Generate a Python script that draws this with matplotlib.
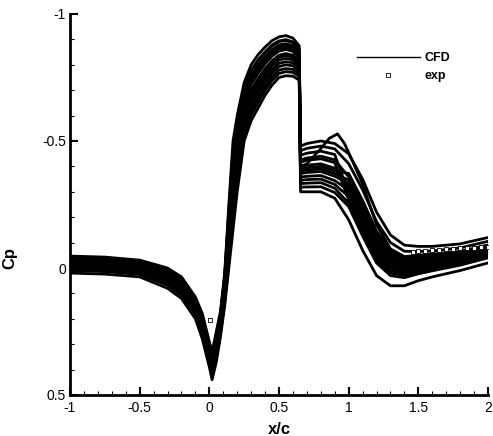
import matplotlib
matplotlib.use("Agg")
import matplotlib.pyplot as plt
from matplotlib.ticker import MultipleLocator, FuncFormatter

# x/c stations shared by the CFD curves
x_cfd = [-1.0, -0.75, -0.5, -0.3, -0.2, -0.1, -0.05, 0.0, 0.02, 0.05, 0.08, 0.11,
         0.14, 0.17, 0.2, 0.25, 0.3, 0.35, 0.4, 0.45, 0.5, 0.55, 0.6, 0.645, 0.655,
         0.7, 0.8, 0.9, 1.0, 1.1, 1.2, 1.3, 1.4, 1.5, 1.6, 1.8, 2.0]

cfd_a = [-0.047, -0.043, -0.031, 0.000, 0.035, 0.114, 0.18, 0.29, 0.33,
         0.25, 0.17, 0.02, -0.25, -0.50, -0.60, -0.73, -0.80, -0.84, -0.87, -0.895, -0.91, -0.915, -0.905, -0.875,
         -0.462, -0.471, -0.48, -0.469,
         -0.411, -0.308, -0.183, -0.10, -0.066, -0.065, -0.067, -0.079, -0.105]
cfd_b = [-0.037, -0.033, -0.021, 0.012, 0.048, 0.127, 0.195, 0.305, 0.346,
         0.262, 0.18, 0.033, -0.225, -0.465, -0.57, -0.707, -0.778, -0.819, -0.851, -0.878, -0.894, -0.899, -0.89, -0.862,
         -0.48, -0.49, -0.50, -0.49,
         -0.45, -0.35, -0.22, -0.13, -0.09, -0.085, -0.085, -0.095, -0.12]
cfd_c = [-0.027, -0.023, -0.011, 0.024, 0.061, 0.140, 0.21, 0.32, 0.363,
         0.28, 0.195, 0.053, -0.188, -0.413, -0.525, -0.673, -0.745, -0.788, -0.823, -0.851, -0.87, -0.876, -0.868, -0.841,
         -0.426, -0.433, -0.44, -0.426,
         -0.359, -0.252, -0.133, -0.06, -0.034, -0.038, -0.043, -0.058, -0.085]
cfd_d = [-0.017, -0.013, -0.001, 0.036, 0.073, 0.153, 0.225, 0.335, 0.38,
         0.292, 0.205, 0.066, -0.163, -0.378, -0.495, -0.65, -0.723, -0.767, -0.804, -0.834, -0.854, -0.86, -0.853, -0.828,
         -0.399, -0.405, -0.41, -0.393,
         -0.32, -0.21, -0.095, -0.03, -0.01, -0.018, -0.025, -0.043, -0.07]
cfd_e = [-0.010, -0.006, 0.005, 0.044, 0.082, 0.161, 0.235, 0.345, 0.39,
         0.31, 0.22, 0.085, -0.125, -0.325, -0.45, -0.615, -0.69, -0.735, -0.775, -0.808, -0.83, -0.836, -0.83, -0.808,
         -0.372, -0.376, -0.38, -0.361,
         -0.333, -0.224, -0.108, -0.04, -0.018, -0.024, -0.031, -0.048, -0.075]
cfd_f = [0.000, 0.004, 0.015, 0.056, 0.095, 0.174, 0.25, 0.36, 0.407,
         0.328, 0.235, 0.105, -0.088, -0.273, -0.405, -0.58, -0.657, -0.704, -0.747, -0.781, -0.806, -0.812, -0.808, -0.787,
         -0.345, -0.348, -0.35, -0.329,
         -0.281, -0.168, -0.058, 0.0, 0.014, 0.003, -0.007, -0.027, -0.055]
cfd_g = [0.010, 0.014, 0.025, 0.068, 0.107, 0.187, 0.265, 0.375, 0.423,
         0.348, 0.252, 0.127, -0.045, -0.213, -0.354, -0.541, -0.62, -0.668, -0.714, -0.752, -0.779, -0.785, -0.782, -0.764,
         -0.318, -0.319, -0.32, -0.297,
         -0.242, -0.126, -0.02, 0.03, 0.038, 0.023, 0.011, -0.011, -0.04]
cfd_h = [0.020, 0.024, 0.035, 0.080, 0.120, 0.200, 0.28, 0.39, 0.44,
         0.37, 0.27, 0.15, 0.00, -0.15, -0.30, -0.50, -0.58, -0.63, -0.68, -0.72, -0.75, -0.757, -0.755, -0.74,
         -0.30, -0.30, -0.30, -0.275,
         -0.19, -0.07, 0.03, 0.07, 0.07, 0.05, 0.035, 0.01, -0.02]
cfd_i = [-0.034, -0.030, -0.018, 0.016, 0.052, 0.131, 0.20, 0.31, 0.352,
         0.304, 0.215, 0.079, -0.138, -0.343, -0.465, -0.627, -0.701, -0.746, -0.785, -0.816, -0.838, -0.844, -0.838, -0.814,
         -0.444, -0.452, -0.46, -0.447,
         -0.294, -0.182, -0.07, -0.01, 0.006, -0.004, -0.013, -0.032, -0.06]
cfd_j = [-0.007, -0.003, 0.009, 0.048, 0.086, 0.166, 0.24, 0.35, 0.396,
         0.264, 0.182, 0.036, -0.22, -0.458, -0.564, -0.702, -0.774, -0.815, -0.847, -0.874, -0.891, -0.896, -0.887, -0.859,
         -0.39, -0.395, -0.40, -0.383,
         -0.372, -0.266, -0.145, -0.07, -0.042, -0.045, -0.049, -0.064, -0.09]
cfd_n = [0.007, 0.011, 0.022, 0.064, 0.103, 0.183, 0.26, 0.37, 0.418,
         0.318, 0.227, 0.094, -0.108, -0.30, -0.429, -0.599, -0.675, -0.72, -0.762, -0.795, -0.819, -0.825, -0.82, -0.798,
         -0.417, -0.424, -0.43, -0.415,
         -0.268, -0.154, -0.045, 0.01, 0.022, 0.01, -0.001, -0.022, -0.05]
cfd_o = [-0.040, -0.036, -0.024, 0.008, 0.044, 0.123, 0.19, 0.30, 0.341,
         0.338, 0.243, 0.115, -0.068, -0.245, -0.381, -0.562, -0.639, -0.687, -0.731, -0.767, -0.793, -0.80, -0.796, -0.776,
         -0.381, -0.386, -0.39, -0.372,
         -0.346, -0.238, -0.12, -0.05, -0.026, -0.031, -0.037, -0.053, -0.08]
cfd_p = [-0.014, -0.010, 0.002, 0.040, 0.078, 0.157, 0.23, 0.34, 0.385,
         0.358, 0.26, 0.137, -0.025, -0.185, -0.33, -0.523, -0.602, -0.651, -0.699, -0.738, -0.766, -0.773, -0.77, -0.754,
         -0.358, -0.361, -0.364, -0.344,
         -0.307, -0.196, -0.083, -0.02, -0.002, -0.011, -0.019, -0.037, -0.065]
cfd_q = [-0.024, -0.020, -0.008, 0.028, 0.065, 0.144, 0.215, 0.325, 0.368,
         0.274, 0.19, 0.046, -0.20, -0.43, -0.54, -0.684, -0.756, -0.798, -0.832, -0.86, -0.878, -0.883, -0.875, -0.848,
         -0.332, -0.334, -0.336, -0.314,
         -0.255, -0.14, -0.033, 0.02, 0.03, 0.016, 0.005, -0.016, -0.045]

# one case with a bump behind the shock
x_bump = [-1.0, -0.75, -0.5, -0.3, -0.2, -0.1, -0.05, 0.0, 0.02, 0.05, 0.08, 0.11,
          0.14, 0.17, 0.2, 0.25, 0.3, 0.35, 0.4, 0.45, 0.5, 0.55, 0.6, 0.645, 0.655,
          0.7, 0.8, 0.86, 0.92, 0.97, 1.02, 1.1, 1.2, 1.3, 1.4, 1.5, 1.6, 1.8, 2.0]
cfd_bump = [-0.020, -0.016, -0.005, 0.032, 0.069, 0.148, 0.22, 0.33, 0.374,
            0.286, 0.20, 0.059, -0.175, -0.395, -0.51, -0.661, -0.734, -0.777, -0.813, -0.843, -0.862, -0.868, -0.86, -0.835,
            -0.40, -0.41, -0.47, -0.51, -0.528, -0.49, -0.43, -0.33, -0.17, -0.075, -0.045, -0.05, -0.055, -0.065, -0.09]

cfd_curves = [(x_cfd, cfd_a), (x_cfd, cfd_b), (x_cfd, cfd_c), (x_cfd, cfd_d), (x_cfd, cfd_e),
              (x_cfd, cfd_f), (x_cfd, cfd_g), (x_cfd, cfd_h), (x_cfd, cfd_i), (x_cfd, cfd_j),
              (x_cfd, cfd_n), (x_cfd, cfd_o), (x_cfd, cfd_p), (x_cfd, cfd_q),
              (x_bump, cfd_bump)]

# experimental points
x_exp = [0.005, 1.46, 1.5, 1.55, 1.6, 1.65, 1.7, 1.75, 1.8, 1.85, 1.9, 1.95, 2.0]
cp_exp = [0.205, -0.062, -0.066, -0.068, -0.07, -0.072, -0.074, -0.075, -0.077, -0.078, -0.08, -0.082, -0.084]

x_ticks = [-1, -0.5, 0, 0.5, 1, 1.5, 2]
y_ticks = [-1, -0.5, 0, 0.5]

plt.rcParams['font.family'] = ['Liberation Sans', 'DejaVu Sans']

fig = plt.figure(figsize=(4.93, 4.36), dpi=100)
ax = fig.add_axes([70/493, 1 - 395/436, 418/493, 381/436])

for i, (xs, ys) in enumerate(cfd_curves):
    ax.plot(xs, ys, color='black', lw=2.0, solid_joinstyle='round',
            label='CFD' if i == 0 else None)
ax.plot(x_exp, cp_exp, linestyle='none', marker='s', markersize=3,
        markerfacecolor='white', markeredgecolor='black', markeredgewidth=0.6,
        label='exp')

ax.set_xlim(-1, 2)
ax.set_ylim(0.5, -1)
ax.set_xticks(x_ticks)
ax.set_yticks(y_ticks)
ax.xaxis.set_minor_locator(MultipleLocator(0.1))
ax.yaxis.set_minor_locator(MultipleLocator(0.1))
fmt = FuncFormatter(lambda v, p: ('%g' % v))
ax.xaxis.set_major_formatter(fmt)
ax.yaxis.set_major_formatter(fmt)

for s in ['top', 'right']:
    ax.spines[s].set_visible(False)
for s in ['left', 'bottom']:
    ax.spines[s].set_linewidth(2.0)
ax.tick_params(which='major', direction='in', length=6, width=1.5, labelsize=10)
ax.tick_params(axis='x', which='major', pad=4)
ax.tick_params(axis='y', which='major', pad=3)
ax.tick_params(which='minor', direction='in', length=3, width=0.8)

ax.set_xlabel('x/c', fontsize=12, fontweight='bold')
ax.set_ylabel('Cp', fontsize=12, fontweight='bold')
ax.xaxis.set_label_coords(0.502, -0.07)
ax.yaxis.set_label_coords(-0.125, 0.36)

leg = ax.legend(loc='upper left', bbox_to_anchor=(0.66, 0.93), frameon=False,
                handlelength=5.0, handletextpad=0.4, labelspacing=0.5,
                prop={'weight': 'bold', 'size': 9})
leg.legend_handles[0].set_linewidth(1.0)

fig.savefig('out.png', dpi=100)
